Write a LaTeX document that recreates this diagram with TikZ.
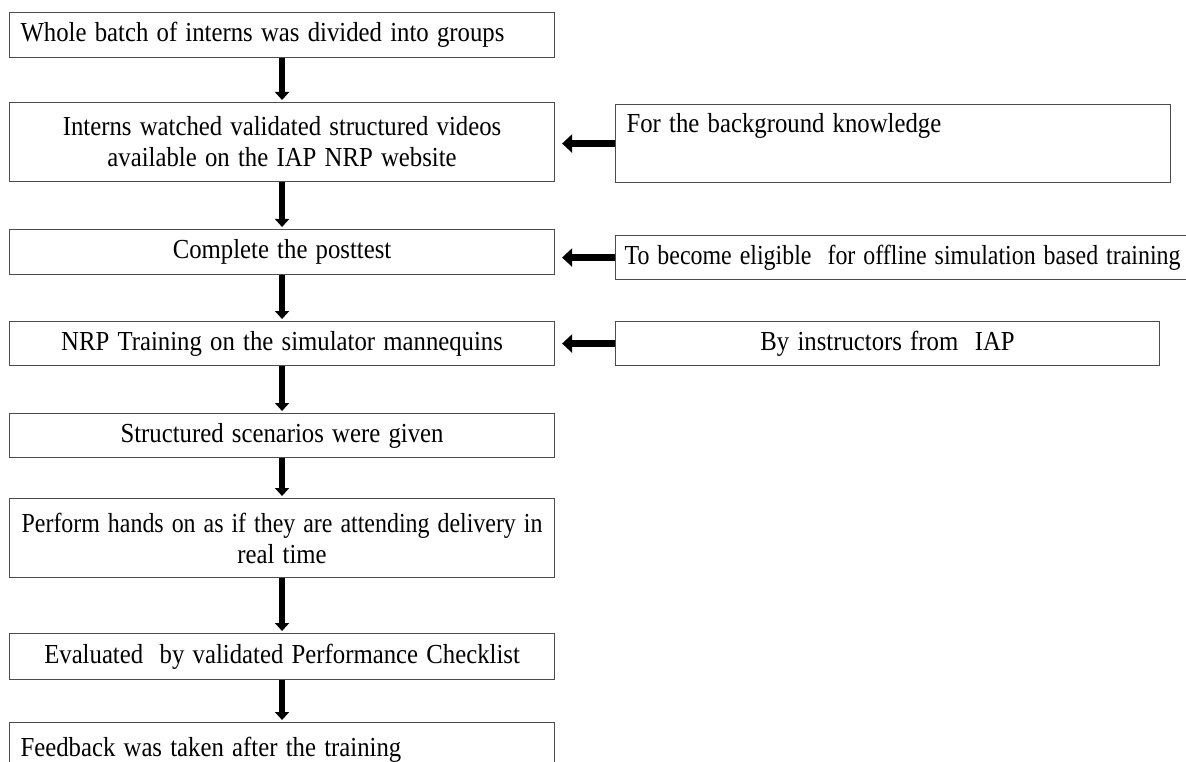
\documentclass[tikz,border=0pt]{standalone}
\usepackage{fontspec}
\setmainfont{Liberation Serif}
\usepackage{graphicx}
\usetikzlibrary{arrows.meta}
\usetikzlibrary{calc}

\newcommand{\flowfont}{\fontsize{27.5}{31}\selectfont\fontdimen2\font=0.22em}
\newcommand{\sq}[2][0.9]{\scalebox{#1}[1]{#2}}

\begin{document}
\begin{tikzpicture}[x=1pt, y=-1pt,
  mainbox/.style={draw=black!70, line width=1.1pt, rectangle, anchor=north west,
    font=\flowfont, inner sep=0pt, text width=#1, align=center},
  mainbox/.default=545pt,
  leftbox/.style={mainbox, inner xsep=11pt, text width=#1, align=left},
  downarrow/.style={-{Triangle[length=8pt,width=14pt]}, line width=6pt, shorten >=2pt},
  sidearrow/.style={-{Triangle[length=10pt,width=18pt]}, line width=7pt, shorten >=7pt}
]
\useasboundingbox (0,0) rectangle (1186,762);
\clip (0,0) rectangle (1186,762);

% steps of the training
\node[leftbox=523pt, minimum height=45pt] (batch) at (9,12) {\sq{Whole batch of interns was divided into groups}};
\node[mainbox, minimum height=79pt] (videos) at (9,102) {\sq{Interns watched validated structured videos}\\\sq{available on the IAP NRP website}};
\node[mainbox, minimum height=45pt] (posttest) at (9,229) {\sq{Complete the posttest}};
\node[mainbox, minimum height=44pt] (training) at (9,321) {\sq{NRP Training on the simulator mannequins}};
\node[mainbox, minimum height=44pt] (scenarios) at (9,413) {\sq{Structured scenarios were given}};
\node[mainbox, minimum height=79pt] (handson) at (9,498) {\sq[0.87]{Perform hands on as if they are attending delivery in}\\\sq{real time}};
\node[mainbox, minimum height=46pt] (checklist) at (9,633) {\sq{Evaluated~ by validated Performance Checklist}};
\node[leftbox=523pt, minimum height=54pt] (feedback) at (9,722) {\sq{Feedback was taken after the training}};

% side notes
\node[leftbox=533pt, minimum height=78pt] (sidebg) at (615,104) {\sq{For the background knowledge}\\\strut};
\node[leftbox=553pt, inner xsep=9pt, minimum height=44pt] (sideelig) at (615,235) {\sq[0.87]{To become eligible~ for offline simulation based training}};
\node[mainbox=544pt, minimum height=44pt] (sideinstr) at (615,321) {\sq{By instructors from~ IAP}};

% arrows
\draw[downarrow] (batch.south) -- (videos.north);
\draw[downarrow] (videos.south) -- (posttest.north);
\draw[downarrow] (posttest.south) -- (training.north);
\draw[downarrow] (training.south) -- (scenarios.north);
\draw[downarrow] (scenarios.south) -- (handson.north);
\draw[downarrow] (handson.south) -- (checklist.north);
\draw[downarrow] (checklist.south) -- (feedback.north);

\draw[sidearrow] (sidebg.west) -- (sidebg.west -| videos.east);
\draw[sidearrow] (sideelig.west) -- (sideelig.west -| posttest.east);
\draw[sidearrow] (sideinstr.west) -- (sideinstr.west -| training.east);

\end{tikzpicture}
\end{document}
